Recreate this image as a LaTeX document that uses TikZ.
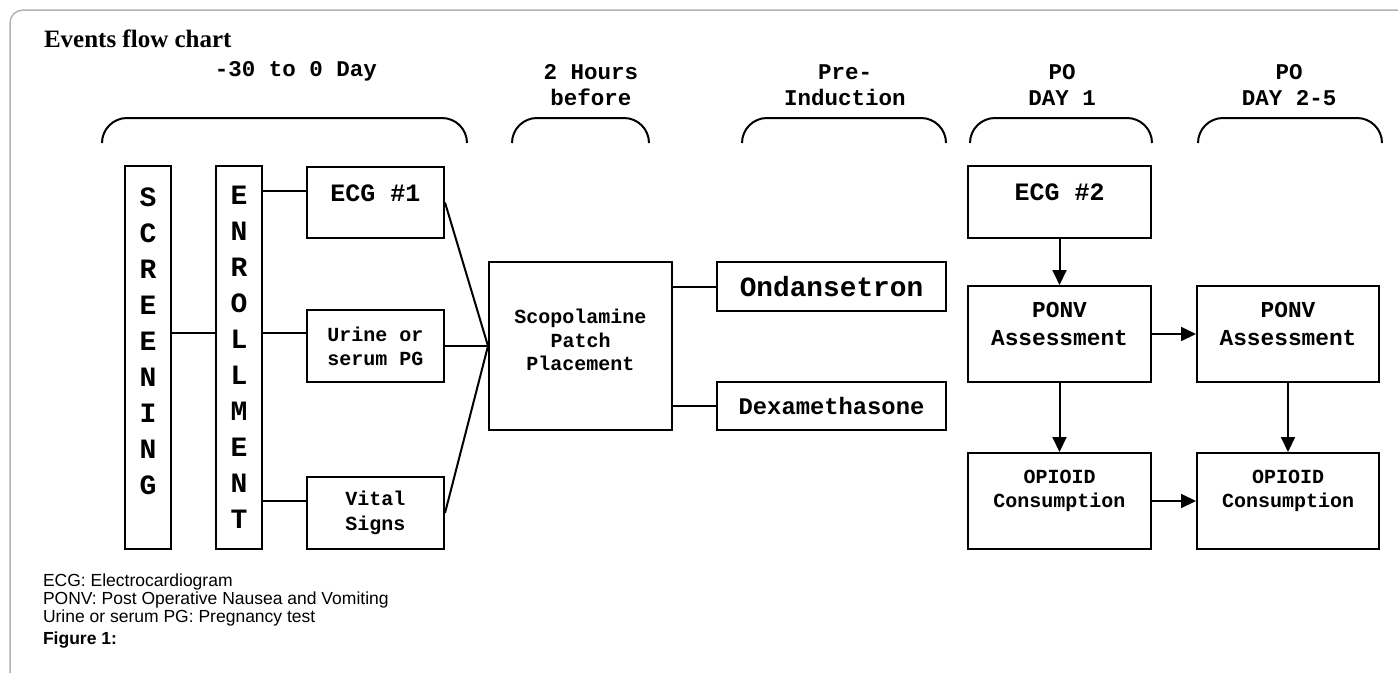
\documentclass[tikz,border=0pt]{standalone}
\usepackage{fontspec}
\setmainfont{Liberation Serif}
\setsansfont{Liberation Sans}
\setmonofont{Liberation Mono}
\usetikzlibrary{calc,positioning,arrows.meta}

\newcommand{\mono}[2]{\ttfamily\bfseries\fontsize{#1}{#2}\selectfont}

\begin{document}
\begin{tikzpicture}[x=1pt,y=-1pt,line width=2pt,
  box/.style={draw, inner sep=0pt, align=center},
  arr/.style={-{Triangle[length=15pt,width=14pt]}}]
\useasboundingbox (0,0) rectangle (1398,673);
% frame and title
\draw[line width=1.5pt, color=black!30, rounded corners=13pt] (10,673) -- (10,10) -- (1398,10);
\node[anchor=base west, inner sep=0pt, font=\rmfamily\bfseries\fontsize{25}{30}\selectfont] (title) at (43,47) {Events flow chart};
% time periods
\node[align=center, font=\mono{22.5}{26}] (perA) at (296,71) {-30 to 0 Day};
\node[align=center, font=\mono{22.5}{26}] (perB) at (591,85) {2 Hours\\before};
\node[align=center, font=\mono{22.5}{26}] (perC) at (845,85) {Pre-\\Induction};
\node[align=center, font=\mono{22.5}{26}] (perD) at (1062,85) {PO\\DAY 1};
\node[align=center, font=\mono{22.5}{26}] (perE) at (1289,85) {PO\\DAY 2-5};
% brackets under the periods
\draw[rounded corners=25pt] (102,143) -- (102,118) -- (467,118) -- (467,143);
\draw[rounded corners=25pt] (512,143) -- (512,118) -- (649,118) -- (649,143);
\draw[rounded corners=25pt] (742,143) -- (742,118) -- (946,118) -- (946,143);
\draw[rounded corners=25pt] (970,143) -- (970,118) -- (1152,118) -- (1152,143);
\draw[rounded corners=25pt] (1198,143) -- (1198,118) -- (1382,118) -- (1382,143);
% screening and enrollment
\node[box, minimum width=46, minimum height=383, font=\mono{28}{36}] (scr) at (148,357.5)
  {S\\C\\R\\E\\E\\N\\I\\N\\G\\[-4pt]\mbox{}};
\node[box, minimum width=46, minimum height=383, font=\mono{28}{36}] (enr) at (239,357.5)
  {E\\N\\R\\O\\L\\L\\M\\E\\N\\T};
% tests at enrollment
\node[box, minimum width=137, minimum height=71, font=\mono{25}{30}] (ecgA) at (375.5,202.5) {ECG \#1\\[-11pt]\mbox{}};
\node[box, minimum width=137, minimum height=72, font=\mono{20}{24}] (urine) at (375.5,346) {Urine or\\serum PG};
\node[box, minimum width=137, minimum height=72, font=\mono{20}{25}] (vital) at (375.5,513) {Vital\\Signs};
% patch and drugs
\node[box, minimum width=183, minimum height=168, font=\mono{20}{23.5}] (scop) at (580.5,346) {Scopolamine\\Patch\\Placement\\[-11pt]\mbox{}};
\node[box, minimum width=229, minimum height=49, font=\mono{27.8}{33}] (ond) at (831.5,286.5) {Ondansetron};
\node[box, minimum width=229, minimum height=48, font=\mono{23.8}{28}] (dexa) at (831.5,406) {Dexamethasone};
% post operative days
\node[box, minimum width=183, minimum height=72, font=\mono{25}{30}] (ecgB) at (1059.5,202) {ECG \#2\\[-11pt]\mbox{}};
\node[box, minimum width=183, minimum height=96, font=\mono{22.8}{28}] (ponvA) at (1059.5,334) {PONV\\Assessment\\[-8pt]\mbox{}};
\node[box, minimum width=182, minimum height=96, font=\mono{22.8}{28}] (ponvB) at (1288,334) {PONV\\Assessment\\[-8pt]\mbox{}};
\node[box, minimum width=183, minimum height=96, font=\mono{20}{24}] (opA) at (1059.5,501) {OPIOID\\Consumption\\\mbox{}};
\node[box, minimum width=182, minimum height=96, font=\mono{20}{24}] (opB) at (1288,501) {OPIOID\\Consumption\\\mbox{}};
% levels of the branch lines
\coordinate (rowA) at (0,191);
\coordinate (rowB) at (0,333);
\coordinate (rowC) at (0,501);
% connect the boxes
\draw (scr.east |- rowB) -- (enr.west |- rowB);
\draw (enr.east |- rowA) -- (ecgA.west |- rowA);
\draw (enr.east |- rowB) -- (urine.west |- rowB);
\draw (enr.east |- rowC) -- (vital.west |- rowC);
\draw (ecgA.east) -- (scop.west);
\draw (urine.east) -- (scop.west);
\draw (vital.east) -- (scop.west);
\draw (scop.east |- ond.west) -- (ond.west);
\draw (scop.east |- dexa.west) -- (dexa.west);
\draw[arr] (ecgB.south) -- (ponvA.north);
\draw[arr] (ponvA.south) -- (opA.north);
\draw[arr] (ponvB.south) -- (opB.north);
\draw[arr] (ponvA.east) -- (ponvB.west);
\draw[arr] (opA.east) -- (opB.west);
% abbreviations
\node[anchor=west, inner sep=0pt, align=left, font=\sffamily\fontsize{17.5}{18}\selectfont] (abbr) at (42,600)
  {ECG: Electrocardiogram\\PONV: Post Operative Nausea and Vomiting\\Urine or serum PG: Pregnancy test};
\node[anchor=west, inner sep=0pt, font=\sffamily\bfseries\fontsize{17.5}{18}\selectfont] (fig) at (42,640) {Figure 1:};
\end{tikzpicture}
\end{document}
